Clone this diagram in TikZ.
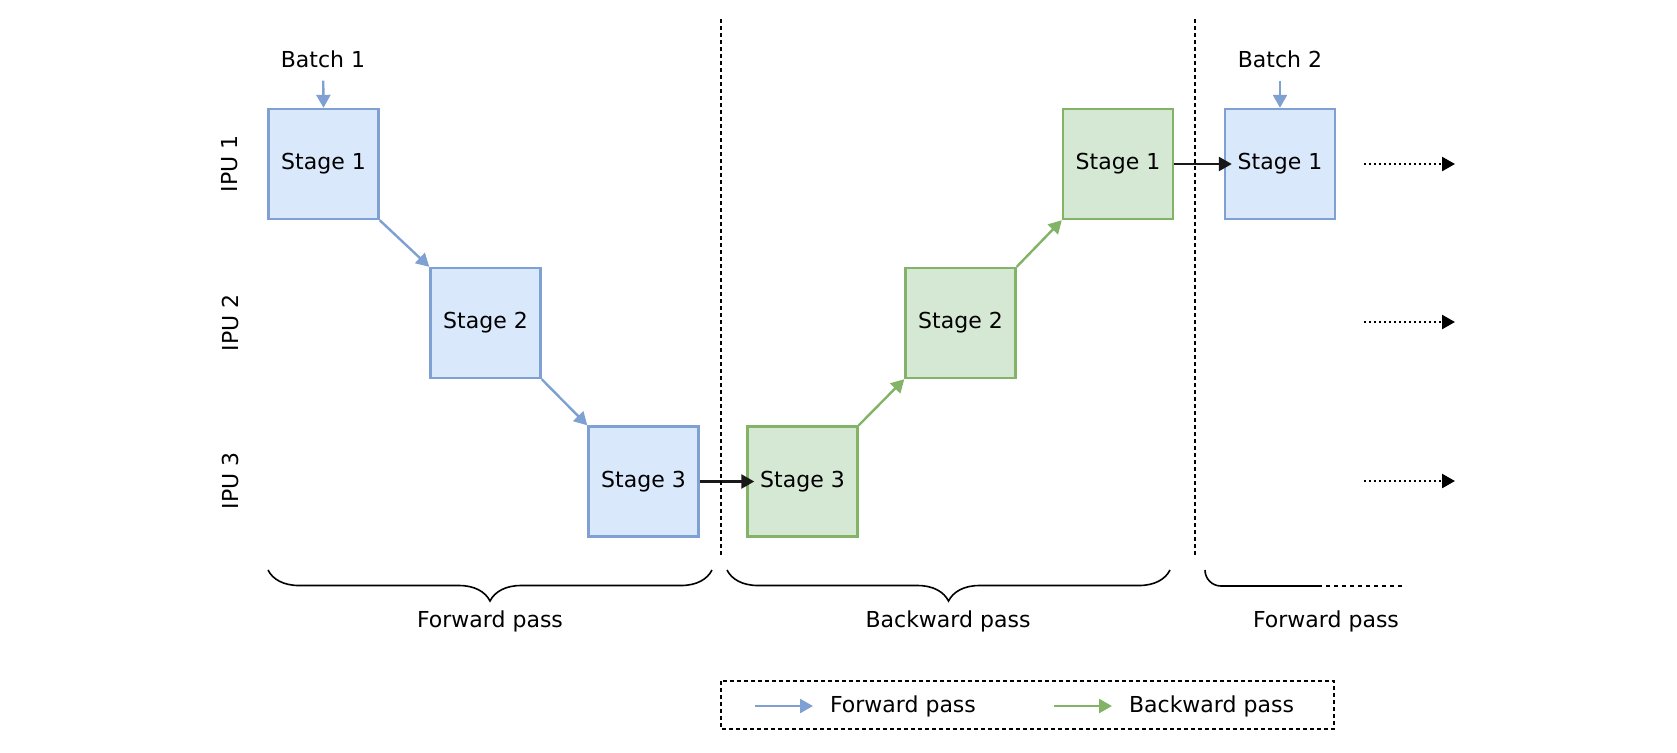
\documentclass[tikz,border=0pt]{standalone}
\usepackage{fontspec}
\setmainfont{DejaVu Sans}
\usetikzlibrary{arrows.meta,decorations.pathreplacing}
\definecolor{fwdfill}{HTML}{DAE8FC}
\definecolor{fwdline}{HTML}{7EA0D2}
\definecolor{bwdfill}{HTML}{D5E8D4}
\definecolor{bwdline}{HTML}{82B366}

\begin{document}
\begin{tikzpicture}[x=0.5pt,y=-0.5pt,font=\fontsize{11}{13}\selectfont,
    arr/.style={line width=1.2pt,-{Triangle[length=6.5pt,width=7pt]}},
    fwdbox/.style={draw=fwdline,fill=fwdfill,line width=1.2pt,minimum size=55pt,inner sep=0pt},
    bwdbox/.style={draw=bwdline,fill=bwdfill,line width=1.2pt,minimum size=55pt,inner sep=0pt},
    sep/.style={line width=0.6pt,dash pattern=on 2pt off 1.5pt},
    dots/.style={line width=1.2pt,dash pattern=on 1.2pt off 1.3pt,-{Triangle[length=6.5pt,width=7pt]}},
    bracket/.style={line width=0.8pt,decorate,decoration={brace,mirror,amplitude=15.5pt}}]
      \useasboundingbox (0,0) rectangle (1677,752);
      \node[rotate=90] (ipu1) at (230,164) {IPU 1};
      \node[rotate=90] (ipu2) at (230,323) {IPU 2};
      \node[rotate=90] (ipu3) at (230,481) {IPU 3};
      \node[fwdbox] (f1) at (323.5,164) {Stage 1};
      \node[fwdbox] (f2) at (485.5,323) {Stage 2};
      \node[fwdbox] (f3) at (643.5,481.5) {Stage 3};
      \node[bwdbox] (b3) at (802.5,481.5) {Stage 3};
      \node[bwdbox] (b2) at (960.5,323) {Stage 2};
      \node[bwdbox] (b1) at (1118,164) {Stage 1};
      \node[fwdbox] (n1) at (1280,164) {Stage 1};
      \node (batch1) at (323,59) {Batch 1};
      \node (batch2) at (1280,59) {Batch 2};
      \draw[arr,fwdline,shorten <=3pt] (batch1) -- (f1.north);
      \draw[arr,fwdline,shorten <=3pt] (batch2) -- (n1.north);
      \draw[arr,fwdline] (f1.south east) -- (f2.north west);
      \draw[arr,fwdline] (f2.south east) -- (f3.north west);
      \draw[arr,black!90,shorten >=-4pt] (f3.east) -- (b3.west);
      \draw[arr,bwdline] (b3.north east) -- (b2.south west);
      \draw[arr,bwdline] (b2.north east) -- (b1.south west);
      \draw[arr,black!90,shorten >=-4pt] (b1.east) -- (n1.west);
      \coordinate (d1) at (1364,164);
      \coordinate (e1) at (1455,164);
      \coordinate (d2) at (1364,322);
      \coordinate (e2) at (1455,322);
      \coordinate (d3) at (1364,481);
      \coordinate (e3) at (1455,481);
      \draw[dots] (d1) -- (e1);
      \draw[dots] (d2) -- (e2);
      \draw[dots] (d3) -- (e3);
      \draw[sep] (721,19) -- (721,556);
      \draw[sep] (1195,19) -- (1195,556);
      \draw[bracket] (268,570) -- (712,570);
      \draw[bracket] (727,570) -- (1170,570);
      \draw[line width=0.8pt] (1205,570) to[out=-90,in=180] (1221,586) -- (1318,586);
      \draw[line width=0.8pt,dash pattern=on 2pt off 2pt] (1318,586) -- (1404,586);
      \node (fp1) at (490,621) {Forward pass};
      \node (bp) at (948,621) {Backward pass};
      \node (fp2) at (1326,621) {Forward pass};
      \draw[sep] (721,681) rectangle (1334,729);
      \coordinate (l1) at (755,706);
      \coordinate (l2) at (813,706);
      \coordinate (l3) at (1054,706);
      \coordinate (l4) at (1112,706);
      \draw[arr,fwdline] (l1) -- (l2);
      \draw[arr,bwdline] (l3) -- (l4);
      \node[anchor=west] (lf) at (823,706) {Forward pass};
      \node[anchor=west] (lb) at (1122,706) {Backward pass};
    \end{tikzpicture}
\end{document}
